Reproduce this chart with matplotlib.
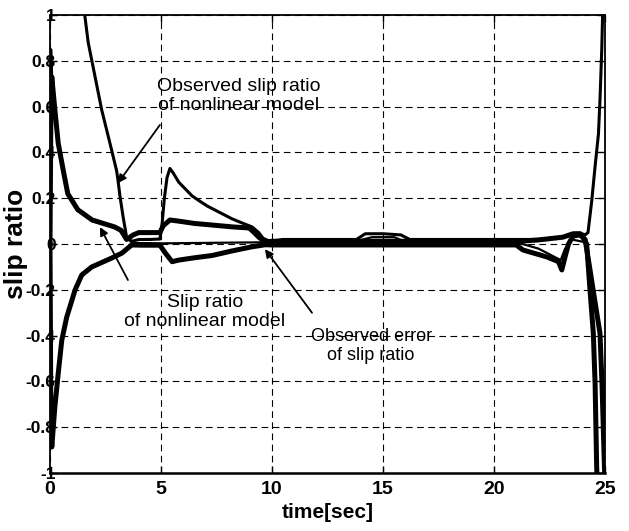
import numpy as np
import matplotlib
matplotlib.use("Agg")
import matplotlib.pyplot as plt

plt.rcParams['font.family'] = ['Liberation Sans', 'DejaVu Sans']

# ---- data ----
obs_t = [1.5, 1.72, 2.03, 2.33, 2.7, 3.0, 3.06, 3.15, 3.29, 3.45, 3.68, 4.0, 4.5, 4.95,
         5.05, 5.15, 5.27, 5.4, 5.55, 5.8, 6.1, 6.4, 6.7, 7.1, 7.5, 8.2, 8.7, 9.1, 9.4, 9.6, 9.9,
         10.5, 13.8, 14.2, 15.0, 15.8, 16.2, 21.0, 22.0, 23.1, 23.56, 23.87, 24.1, 24.23, 24.4,
         24.55, 24.7, 24.77, 24.85, 24.9]
obs_y = [1.05, 0.88, 0.73, 0.585, 0.44, 0.32, 0.28, 0.21, 0.12, 0.03, 0.012, 0.02, 0.02, 0.022,
         0.09, 0.2, 0.29, 0.33, 0.31, 0.27, 0.24, 0.21, 0.19, 0.165, 0.145, 0.11, 0.09, 0.075, 0.05, 0.025, 0.012,
         0.02, 0.02, 0.045, 0.045, 0.04, 0.02, 0.02, 0.02, 0.03, 0.045, 0.048, 0.04, 0.05, 0.19,
         0.34, 0.48, 0.63, 0.85, 1.05]

slip_hi_t = [0.0, 0.04, 0.08, 0.22, 0.37, 0.6, 0.8, 1.25, 1.9, 2.4, 2.9, 3.2, 3.45, 3.75, 4.0,
             4.95, 5.1, 5.4, 5.8, 6.5, 7.3, 8.2, 8.97, 9.2, 9.4, 9.7, 10.0, 21.1, 22.0, 23.1, 23.4, 23.56,
             23.87, 24.0, 24.17, 24.32, 24.47, 24.55, 24.62, 24.65]
slip_hi_y = [0.0, 0.6, 0.73, 0.585, 0.44, 0.32, 0.22, 0.15, 0.105, 0.09, 0.075, 0.06, 0.02, 0.04, 0.05,
             0.05, 0.08, 0.105, 0.10, 0.09, 0.083, 0.075, 0.07, 0.05, 0.03, 0.01, 0.012, 0.012, 0.018, 0.03, 0.04, 0.045,
             0.045, 0.03, 0.0, -0.2, -0.39, -0.61, -0.97, -1.05]

slip_lo_t = [0.0, 0.04, 0.08, 0.22, 0.37, 0.53, 0.75, 1.13, 1.43, 1.88, 2.78, 3.23, 3.68, 4.2,
             4.95, 5.2, 5.5, 5.8, 6.5, 7.3, 8.2, 9.1, 9.7, 10.0, 21.0, 21.3, 22.37, 22.9, 23.05, 23.2,
             23.35, 23.56, 23.87, 24.1, 24.3, 24.46, 24.77, 24.86, 24.97, 25.0]
slip_lo_y = [0.0, -0.8, -0.886, -0.71, -0.565, -0.42, -0.32, -0.2, -0.135, -0.1, -0.061, -0.04, -0.004, -0.005,
             -0.005, -0.04, -0.077, -0.07, -0.06, -0.05, -0.03, -0.012, -0.003, -0.004, -0.004, -0.026, -0.056, -0.077, -0.113, -0.055,
             0.0, 0.035, 0.04, 0.02, -0.1, -0.2, -0.39, -0.61, -0.97, -1.05]

err_t = [0.0, 0.05, 0.1, 0.22, 0.37, 0.6, 0.8, 1.25, 1.9, 3.0, 3.7, 5.0, 10.0, 13.9, 14.5, 15.5, 16.0,
         21.0, 22.0, 22.8, 23.0, 23.2, 23.5, 24.0]
err_y = [0.0, 0.85, 0.72, 0.58, 0.44, 0.32, 0.22, 0.15, 0.1, 0.07, 0.005, 0.003, 0.008, 0.015, 0.03, 0.03, 0.01,
         0.008, -0.02, -0.06, -0.07, -0.02, 0.02, 0.01]

x_ticks = [0, 5, 10, 15, 20, 25]
y_ticks = [-1, -0.8, -0.6, -0.4, -0.2, 0, 0.2, 0.4, 0.6, 0.8, 1]
y_labels = ['-1', '-0.8', '-0.6', '-0.4', '-0.2', '0', '0.2', '0.4', '0.6', '0.8', '1']

fig = plt.figure(figsize=(6.29, 5.31), dpi=100)
ax = fig.add_axes([0.0795, 0.109, 0.8825, 0.8628])

ax.plot(slip_hi_t, slip_hi_y, color='k', lw=3.6, solid_joinstyle='round')
ax.plot(slip_lo_t, slip_lo_y, color='k', lw=3.6, solid_joinstyle='round')
ax.plot(obs_t, obs_y, color='k', lw=2.2, solid_joinstyle='round')
ax.plot(err_t, err_y, color='k', lw=1.6, solid_joinstyle='round')

ax.set_xlim(0, 25)
ax.set_ylim(-1, 1)
ax.set_xticks(x_ticks)
ax.set_xticklabels([str(v) for v in x_ticks])
ax.set_yticks(y_ticks)
ax.set_yticklabels(y_labels)
ax.grid(True, color='k', linestyle=(0, (6, 4)), linewidth=0.8)
ax.tick_params(direction='in', length=5, width=1, top=True, right=True)
ax.tick_params(axis='y', pad=-4, labelsize=12.5)
ax.tick_params(axis='x', pad=6, labelsize=14)
for lab in ax.get_xticklabels() + ax.get_yticklabels():
    lab.set_fontweight('bold')
for s in ax.spines.values():
    s.set_linewidth(1.3)
ax.spines['bottom'].set_linewidth(1.8)

ax.set_ylabel('slip ratio', fontsize=19, fontweight='bold')
ax.yaxis.set_label_coords(-0.04, 0.5)
ax.set_xlabel('time[sec]', fontsize=15, fontweight='bold', labelpad=3)

ap = dict(arrowstyle='-|>', color='k', lw=1.3, mutation_scale=12, shrinkA=0, shrinkB=0)
ax.annotate('', xy=(3.06, 0.266), xytext=(4.95, 0.52), arrowprops=ap)
ax.annotate('', xy=(2.25, 0.074), xytext=(3.51, -0.157), arrowprops=ap)
ax.annotate('', xy=(9.68, -0.022), xytext=(11.8, -0.30), arrowprops=ap)

ax.text(8.51, 0.646, 'Observed slip ratio\nof nonlinear model', fontsize=14, ha='center', va='center', linespacing=1.15)
ax.text(6.98, -0.297, 'Slip ratio\nof nonlinear model', fontsize=14, ha='center', va='center', linespacing=1.15)
ax.text(14.46, -0.445, 'Observed error\nof slip ratio', fontsize=13, ha='center', va='center', linespacing=1.15)

fig.savefig('out.png', dpi=100)
